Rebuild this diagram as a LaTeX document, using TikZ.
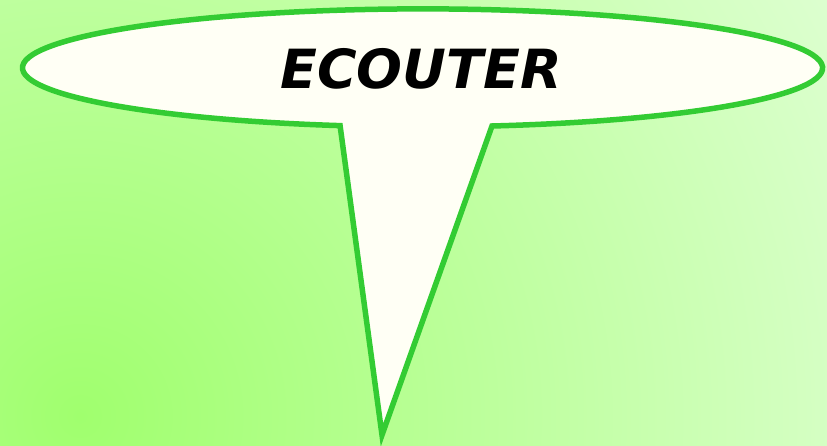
\documentclass[tikz,border=0pt]{standalone}
\usepackage{fontspec}
\setsansfont{DejaVu Sans}
\usetikzlibrary{calc}
\definecolor{bgdeep}{RGB}{160,255,110}
\definecolor{bglight}{RGB}{222,255,210}
\definecolor{rimgreen}{RGB}{51,204,51}
\definecolor{ivory1}{RGB}{255,255,245}

\begin{document}
\begin{tikzpicture}[
  x=1pt, y=1pt,
  bubble/.style={draw=rimgreen, fill=ivory1, line width=5.5pt, line join=miter},
  word/.style={font=\sffamily\bfseries\itshape\fontsize{54}{62}\selectfont, text=black},
]
\useasboundingbox (0,0) rectangle (827,446);

% background
\begin{scope}
  \clip (0,0) rectangle (827,446);
  \shade[inner color=bgdeep, outer color=bglight] (80,30) circle (880);
\end{scope}

% speech bubble
\coordinate (tip) at (382,11);
\draw[bubble] (492,320)
  arc[start angle=-80, end angle=258.1, x radius=400, y radius=59]
  -- (tip) -- cycle;

\node[word] (ecouter) at (421,377) {ECOUTER};

\end{tikzpicture}
\end{document}
